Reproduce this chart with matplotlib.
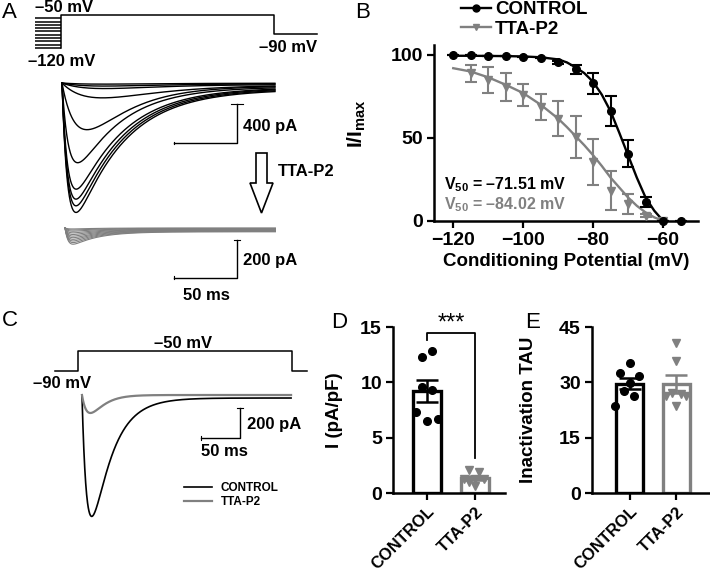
import numpy as np
import matplotlib
matplotlib.use('Agg')
import matplotlib.pyplot as plt
from matplotlib.patches import Polygon
from matplotlib.lines import Line2D

# ---------------- data ----------------
# Panel A: pre-pulse protocol levels (mV) and step protocol
prepulse_levels = [-120, -113, -106, -99, -92, -85, -78, -71, -64, -57]
prepulse_start = -20.6          # ms
protA_t = [0, 0, 169, 169, 203]  # ms
protA_v = [-120, -50, -50, -90, -90]  # mV

# Panel A: control current sweeps (pA, ms)
ctrlA_peak = [1300, 1235, 1170, 1070, 800, 460, 135, 45, 25, 10]
ctrlA_trise = [4.5, 4.5, 4.5, 4.6, 5.5, 12, 25, 25, 25, 25]
ctrlA_tdecay = [38, 38, 38, 38, 36, 34, 38, 38, 38, 38]
ctrlA_leak = [-65, -58, -50, -44, -38, -30, -22, -15, -8, -2]
# Panel A: TTA-P2 sweeps
ttaA_peak = [80, 72, 64, 56, 48, 40, 32, 24, 16, 10, 5]
ttaA_trise = [2.5, 2.5, 2.5, 2.5, 2.5, 2.5, 2.5, 2.5, 2.5, 2.5, 2.5]
ttaA_tdecay = [20, 20, 20, 20, 20, 20, 20, 20, 20, 20, 20]
ttaA_leak = [-20, -18, -16, -14, -12, -10, -8, -6, -4, -2, 0]

# Panel B: steady-state inactivation
cond_v = [-120, -115, -110, -105, -100, -95, -90, -85, -80, -75, -70, -65, -60, -55]
ctrl_norm = [100, 100, 99.4, 99.4, 99, 98, 95.5, 91.3, 82.8, 66, 40.4, 11, 0, 0]
ctrl_sem = [0, 0, 0, 0, 0, 0, 0.8, 2.5, 6.5, 9, 8.3, 3, 0, 0]
tta_v = [-115, -110, -105, -100, -95, -90, -85, -80, -75, -70, -65, -60]
tta_norm = [88.9, 84.8, 80.8, 75.8, 68.7, 61.6, 50.5, 35.4, 18.2, 10, 3, 0]
tta_sem = [5, 7.8, 8.6, 6.5, 8, 10.7, 12.7, 13.6, 11.6, 6, 1, 0]
fit_v = [-120, -115, -110, -105, -100, -95, -90, -87.5, -85, -82.5, -80, -77.5,
         -75, -72.5, -70, -67.5, -65, -62.5, -60]
ctrl_fit = [99.5, 99.5, 99.4, 99.3, 99.1, 98.6, 97.3, 95.5, 92.5, 89, 83.8, 76,
            66, 53, 39.5, 26, 14, 6, 0]
tta_fit = [92, 90, 86.5, 82, 77, 70, 61.6, 56.5, 51, 45.5, 39.5, 33,
           26, 20, 14, 9, 5, 2, 0]

# Panel C: protocol and example traces
protC_t = [-29.5, 0, 0, 274.4, 274.4, 293.6]
protC_v = [-90, -90, -50, -50, -90, -90]
ctrlC = dict(peak=800, trise=7, tdecay=25, leak=-20)
ttaC = dict(peak=120, trise=8, tdecay=15, leak=0)

# Panel D / E
groups = ['CONTROL', 'TTA-P2']
d_ctrl = [12.8, 12.3, 9.6, 9.3, 7.3, 6.5, 6.7]
d_ctrl_jit = [0.1, -0.11, -0.11, 0.1, -0.23, 0.0, 0.22]
d_tta = [2.08, 1.87, 1.23, 1.23, 1.23, 0.66, 1.02]
d_tta_jit = [-0.12, 0.09, -0.23, 0.0, 0.19, 0.0, -0.12]
e_ctrl = [35.3, 32.6, 31.7, 29.9, 27.7, 26.3, 23.6]
e_ctrl_jit = [0.0, -0.21, 0.2, 0.0, -0.12, 0.09, -0.32]
e_tta = [40.7, 35.8, 27.0, 26.8, 26.3, 26.3, 23.6]
e_tta_jit = [0.0, 0.0, -0.1, 0.1, -0.22, 0.2, 0.0]

# ---------------- style ----------------
plt.rcParams['font.family'] = ['Liberation Sans', 'DejaVu Sans']
plt.rcParams['font.weight'] = 'bold'
plt.rcParams['axes.labelweight'] = 'bold'
plt.rcParams['mathtext.fontset'] = 'custom'
plt.rcParams['mathtext.rm'] = 'Liberation Sans:bold'
plt.rcParams['mathtext.bf'] = 'Liberation Sans:bold'
plt.rcParams['axes.linewidth'] = 1.6
K = 'black'
GRAY = '#808080'

W, H = 710, 576
fig = plt.figure(figsize=(W / 100, H / 100), dpi=100)


def pax(x0, y0, x1, y1):
    return fig.add_axes([x0 / W, 1 - y1 / H, (x1 - x0) / W, (y1 - y0) / H])


def ftxt(x, y, s, **kw):
    kw.setdefault('va', 'center')
    kw.setdefault('ha', 'left')
    kw.setdefault('fontweight', 'bold')
    return fig.text(x / W, 1 - y / H, s, **kw)


def trace(t, amp, tr, td, leak):
    f = np.exp(-t / td) - np.exp(-t / tr)
    f = f / f.max()
    return -amp * f + leak * (1 - np.exp(-t / 20.0))


# ---------------- Panel A ----------------
axP = pax(20, 5, 330, 60)
axP.set_xlim(-32.5, 213.5)
axP.set_ylim(-145.5, -28.8)
axP.axis('off')
for v in prepulse_levels:
    axP.plot([prepulse_start, 0], [v, v], color=K, lw=1.1, solid_capstyle='butt')
axP.plot(protA_t, protA_v, color=K, lw=1.1)
ftxt(35, 8, '–50 mV', fontsize=12)
ftxt(28, 62, '–120 mV', fontsize=12)
ftxt(259, 48, '–90 mV', fontsize=12)

tA = np.linspace(0, 169, 900)
axA1 = pax(40, 70, 320, 220)
axA1.set_xlim(-17.46, 204.76)
axA1.set_ylim(-1405, 133.3)
axA1.axis('off')
for a, tr, td, lk in zip(ctrlA_peak, ctrlA_trise, ctrlA_tdecay, ctrlA_leak):
    axA1.plot(tA, trace(tA, a, tr, td, lk), color=K, lw=1.0)
axA1.plot([139, 139, 89], [-215, -615, -615], color=K, lw=1.0)
axA1.plot([89, 89], [-600, -630], color=K, lw=0.8)
axA1.plot([134, 144], [-215, -215], color=K, lw=0.8)
ftxt(243, 126, '400 pA', fontsize=12)

# hollow arrow
arrow_px = [(256, 153), (267, 153), (267, 183), (273, 183), (261.5, 213),
            (250, 183), (256, 183)]
fig.patches.append(Polygon([(x / W, 1 - y / H) for x, y in arrow_px], closed=True,
                           transform=fig.transFigure, facecolor='white',
                           edgecolor=K, lw=1.2))
ftxt(278, 172, 'TTA-P2', fontsize=12)

axA2 = pax(40, 215, 320, 285)
axA2.set_xlim(-19.84, 202.4)
axA2.set_ylim(-300, 68.4)
axA2.axis('off')
tA2 = np.linspace(0, 167, 900)
for a, tr, td, lk in zip(ttaA_peak, ttaA_trise, ttaA_tdecay, ttaA_leak):
    axA2.plot(tA2, trace(tA2, a, tr, td, lk), color=GRAY, lw=0.8)
axA2.plot([136.5, 136.5, 86.5], [-63, -263, -263], color=K, lw=1.0)
axA2.plot([86.5, 86.5], [-255, -271], color=K, lw=0.8)
axA2.plot([134, 139], [-63, -63], color=K, lw=0.8)
ftxt(243, 260, '200 pA', fontsize=12)
ftxt(206, 295, '50 ms', fontsize=12, ha='center')

# ---------------- Panel B ----------------
axB = pax(434, 45, 698, 220.7)
axB.set_xlim(-125.5, -50)
axB.set_ylim(0, 106)
for s in ['top', 'right']:
    axB.spines[s].set_visible(False)
axB.spines['left'].set_linewidth(1.8)
axB.spines['bottom'].set_linewidth(1.8)
axB.plot(fit_v, ctrl_fit, color=K, lw=1.7, zorder=3)
axB.plot(fit_v, tta_fit, color=GRAY, lw=1.7, zorder=2)
axB.errorbar(cond_v, ctrl_norm, yerr=ctrl_sem, fmt='o', color=K, ms=5.5,
             capsize=4, elinewidth=1.5, capthick=1.5, zorder=4, clip_on=False)
axB.errorbar(tta_v, tta_norm, yerr=tta_sem, fmt='v', color=GRAY, ms=5.5,
             capsize=4, elinewidth=1.5, capthick=1.5, zorder=3, clip_on=False)
axB.set_xticks([-120, -100, -80, -60])
axB.set_yticks([0, 50, 100])
axB.tick_params(direction='out', length=5, width=1.6, labelsize=14, pad=3)
axB.set_xlabel('Conditioning Potential (mV)', fontsize=13.5, labelpad=3,
               fontweight='bold')
axB.set_ylabel('I/I$_{\\mathbf{max}}$', fontsize=15, fontweight='bold')
axB.yaxis.set_label_coords(-0.25, 0.55)
axB.text(-122.5, 22, 'V$_{\\mathbf{50}}$ = –71.51 mV', fontsize=11.5, color=K,
         va='center', fontweight='bold')
axB.text(-122.5, 9.5, 'V$_{\\mathbf{50}}$ = –84.02 mV', fontsize=11.5, color=GRAY,
         va='center', fontweight='bold')
hB = [Line2D([], [], color=K, marker='o', ms=5, lw=1.7),
      Line2D([], [], color=GRAY, marker='v', ms=5, lw=1.7)]
fig.legend(hB, groups, loc='upper left', bbox_to_anchor=(461 / W, 1 - 1 / H),
           frameon=False, prop={'size': 13.5, 'weight': 'bold'},
           handlelength=1.6, handletextpad=0.2,
           labelspacing=0.12, borderpad=0, borderaxespad=0)

# ---------------- Panel C ----------------
axCp = pax(40, 335, 320, 385)
axCp.set_xlim(-48.7, 310.3)
axCp.set_ylim(-118, -18)
axCp.axis('off')
axCp.plot(protC_t, protC_v, color=K, lw=1.1)
ftxt(183, 343, '–50 mV', fontsize=12, ha='center')
ftxt(33, 384, '–90 mV', fontsize=12)

tC = np.linspace(0, 268, 900)
axC = pax(40, 385, 320, 530)
axC.set_xlim(-53.8, 305.1)
axC.set_ylim(-900, 66.7)
axC.axis('off')
lc, = axC.plot(tC, trace(tC, ctrlC['peak'], ctrlC['trise'], ctrlC['tdecay'],
                         ctrlC['leak']), color=K, lw=1.2, label='CONTROL')
lt, = axC.plot(tC, trace(tC, ttaC['peak'], ttaC['trise'], ttaC['tdecay'],
                         ttaC['leak']), color=GRAY, lw=1.6, label='TTA-P2')
axC.plot([202.6, 202.6, 152.6], [-86.7, -286.7, -286.7], color=K, lw=1.0)
axC.plot([152.6, 152.6], [-276, -297], color=K, lw=0.8)
axC.plot([199, 206], [-86.7, -86.7], color=K, lw=0.8)
ftxt(247, 425, '200 pA', fontsize=12)
ftxt(201, 452, '50 ms', fontsize=12)
fig.legend([lc, lt], ['CONTROL', 'TTA-P2'], loc='upper left',
           bbox_to_anchor=(184 / W, 1 - 482 / H), frameon=False,
           prop={'size': 8.5, 'weight': 'bold'},
           handlelength=2.4, handletextpad=0.7, labelspacing=0.2, borderpad=0,
           borderaxespad=0)


# ---------------- Panels D / E ----------------
def bar_panel(ax, vals_c, jit_c, vals_t, jit_t, ylim, yticks, ylabel, width):
    means = [np.mean(vals_c), np.mean(vals_t)]
    sems = [np.std(vals_c, ddof=1) / np.sqrt(len(vals_c)),
            np.std(vals_t, ddof=1) / np.sqrt(len(vals_t))]
    cols = [K, GRAY]
    for i in range(2):
        ax.bar(i, means[i], width=width, color='white', edgecolor=cols[i],
               lw=2.4, zorder=2)
        ax.errorbar(i, means[i], yerr=sems[i], fmt='none', ecolor=cols[i],
                    elinewidth=1.8, capsize=8, capthick=1.8, zorder=3)
    ax.plot(np.array(jit_c), vals_c, 'o', color=K, ms=5.5, zorder=4,
            clip_on=False)
    ax.plot(1 + np.array(jit_t), vals_t, 'v', color=GRAY, ms=5.5, zorder=4,
            clip_on=False)
    ax.set_ylim(*ylim)
    ax.set_yticks(yticks)
    ax.set_xticks([0, 1])
    ax.set_xticklabels(groups, rotation=45, ha='right', rotation_mode='anchor',
                       fontweight='bold')
    for s in ['top', 'right']:
        ax.spines[s].set_visible(False)
    ax.spines['left'].set_linewidth(1.8)
    ax.spines['bottom'].set_linewidth(1.8)
    ax.tick_params(direction='out', length=5, width=1.6, labelsize=14, pad=3)
    ax.tick_params(axis='x', labelsize=12, pad=3)
    ax.set_ylabel(ylabel, fontsize=13.5, fontweight='bold')


axD = pax(393, 327, 505, 493)
axD.set_xlim(-0.71, 1.625)
bar_panel(axD, d_ctrl, d_ctrl_jit, d_tta, d_tta_jit, (0, 15), [0, 5, 10, 15],
          'I (pA/pF)', 0.57)
axD.yaxis.set_label_coords(-0.45, 0.5)
axD.plot([0, 0, 1, 1], [13.8, 14.45, 14.45, 3.2], color=K, lw=1.3,
         clip_on=False, zorder=5)
axD.text(0.5, 14.3, '***', ha='center', va='bottom', fontsize=17,
         fontweight='normal')

axE = pax(592, 327, 709, 493)
axE.set_xlim(-0.81, 1.70)
bar_panel(axE, e_ctrl, e_ctrl_jit, e_tta, e_tta_jit, (0, 45), [0, 15, 30, 45],
          'Inactivation TAU', 0.58)
axE.yaxis.set_label_coords(-0.47, 0.5)

# panel letters
for lab, x, y in [('A', 2, 13), ('B', 355, 13), ('C', 2, 320), ('D', 331, 322),
                  ('E', 525, 322)]:
    ftxt(x, y, lab, fontsize=16, fontweight='normal')

fig.savefig('out.png', dpi=100)
